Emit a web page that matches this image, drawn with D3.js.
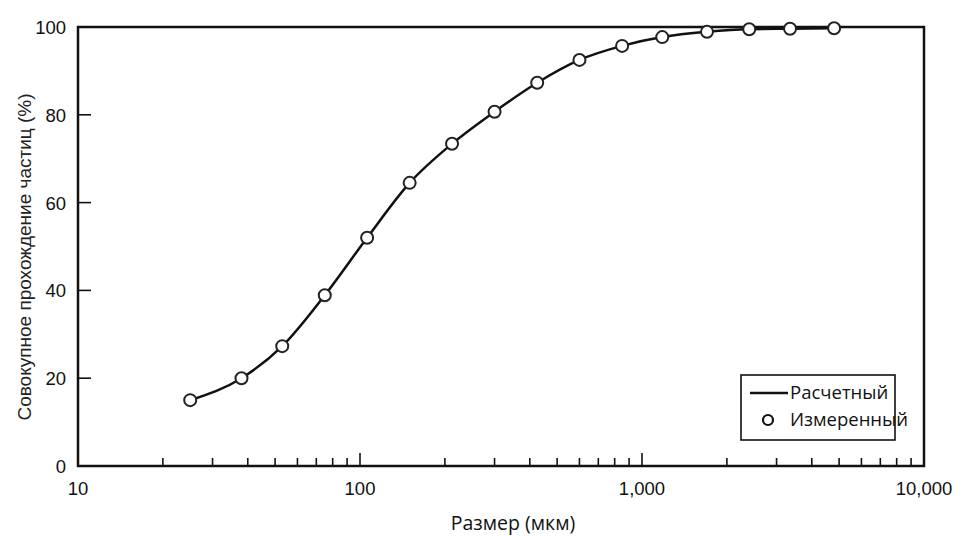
<!DOCTYPE html>
<html lang="ru">
<head>
<meta charset="UTF-8">
<title>Совокупное прохождение частиц</title>
<script src="https://d3js.org/d3.v7.min.js"></script>
<style>
    body { margin: 0; background: #fff; }
    .tick-label { font-family: "Liberation Sans", Arial, sans-serif; font-size: 18.5px; fill: #111; }
    .axis-title { font-family: "Open Sans", sans-serif; font-size: 19.5px; fill: #111; }
    .legend-text { font-family: "Open Sans", sans-serif; font-size: 18.5px; fill: #111; }
</style>
</head>
<body>
<svg width="960" height="536"></svg>
<script>
// measured points (size in мкм, cumulative passing %)
const sizes   = [25, 38, 53, 75, 106, 150, 212, 300, 425, 600, 850, 1180, 1700, 2400, 3350, 4800];
const passing = [15, 20, 27.3, 38.9, 52, 64.5, 73.4, 80.7, 87.3, 92.5, 95.7, 97.7, 98.9, 99.5, 99.6, 99.7];

const xTicks = [10, 100, 1000, 10000];
const xTickLabels = ["10", "100", "1,000", "10,000"];
const yTicks = [0, 20, 40, 60, 80, 100];

const svg = d3.select("svg");
const plotL = 78, plotR = 924, plotT = 27, plotB = 466;

const x = d3.scaleLog().domain([10, 10000]).range([plotL, plotR]);
const y = d3.scaleLinear().domain([0, 100]).range([plotB, plotT]);

// minor ticks 20..90, 200..900, 2000..9000
const minor = [];
[10, 100, 1000].forEach(d => { for (let k = 2; k <= 9; k++) minor.push(d * k); });

const g = svg.append("g");

// minor x ticks (pointing inward)
g.selectAll(".minor").data(minor).enter().append("line")
    .attr("x1", d => x(d)).attr("x2", d => x(d))
    .attr("y1", plotB).attr("y2", plotB - 8)
    .attr("stroke", "#111").attr("stroke-width", 1.6);

// major x ticks
g.selectAll(".major").data(xTicks).enter().append("line")
    .attr("x1", d => x(d)).attr("x2", d => x(d))
    .attr("y1", plotB).attr("y2", plotB - 13)
    .attr("stroke", "#111").attr("stroke-width", 1.6);

g.selectAll(".xlab").data(xTicks).enter().append("text")
    .attr("class", "tick-label")
    .attr("x", d => x(d)).attr("y", plotB + 29)
    .attr("text-anchor", "middle")
    .text((d, i) => xTickLabels[i]);

// y ticks
g.selectAll(".ytick").data(yTicks).enter().append("line")
    .attr("x1", plotL).attr("x2", plotL + 13)
    .attr("y1", d => y(d)).attr("y2", d => y(d))
    .attr("stroke", "#111").attr("stroke-width", 1.6);

g.selectAll(".ylab").data(yTicks).enter().append("text")
    .attr("class", "tick-label")
    .attr("x", plotL - 12).attr("y", d => y(d) + 7)
    .attr("text-anchor", "end")
    .text(d => d);

// frame
g.append("rect")
    .attr("x", plotL).attr("y", plotT)
    .attr("width", plotR - plotL).attr("height", plotB - plotT)
    .attr("fill", "none").attr("stroke", "#111").attr("stroke-width", 2.5);

// titles
svg.append("text").attr("class", "axis-title")
    .attr("x", 513).attr("y", 530)
    .attr("text-anchor", "middle")
    .text("Размер (мкм)");

svg.append("text").attr("class", "axis-title")
    .attr("transform", "translate(31,257) rotate(-90)")
    .attr("text-anchor", "middle")
    .style("font-family", "'Liberation Sans', Arial, sans-serif")
    .style("font-size", "19px")
    .style("fill", "#222")
    .text("Совокупное прохождение частиц (%)");

// calculated curve
const pts = sizes.map((s, i) => [s, passing[i]]);
const line = d3.line()
    .x(d => x(d[0])).y(d => y(d[1]))
    .curve(d3.curveMonotoneX);

svg.append("path")
    .datum(pts)
    .attr("d", line)
    .attr("fill", "none")
    .attr("stroke", "#111")
    .attr("stroke-width", 2.5);

// measured points
svg.selectAll(".pt").data(pts).enter().append("circle")
    .attr("cx", d => x(d[0])).attr("cy", d => y(d[1]))
    .attr("r", 6)
    .attr("fill", "#fff")
    .attr("stroke", "#222")
    .attr("stroke-width", 2);

// legend
const lg = svg.append("g");
lg.append("rect")
    .attr("x", 741).attr("y", 375).attr("width", 154).attr("height", 65)
    .attr("fill", "#fff").attr("stroke", "#111").attr("stroke-width", 1.6);
lg.append("line")
    .attr("x1", 750).attr("x2", 788).attr("y1", 393).attr("y2", 393)
    .attr("stroke", "#111").attr("stroke-width", 2.5);
lg.append("text").attr("class", "legend-text")
    .attr("x", 790).attr("y", 399).text("Расчетный");
lg.append("circle")
    .attr("cx", 768).attr("cy", 420).attr("r", 5)
    .attr("fill", "#fff").attr("stroke", "#111").attr("stroke-width", 2.2);
lg.append("text").attr("class", "legend-text")
    .attr("x", 790).attr("y", 426).text("Измеренный");
</script>
</body>
</html>
